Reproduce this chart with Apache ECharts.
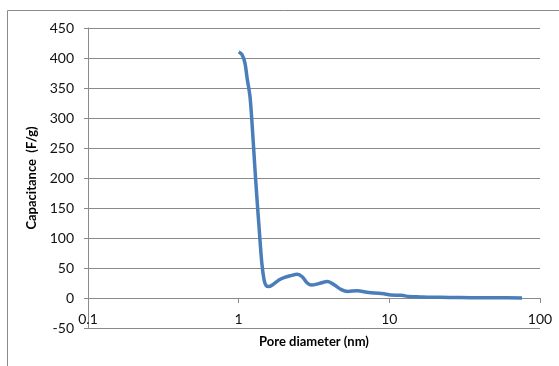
<!DOCTYPE html>
<html>
<head>
<meta charset="utf-8">
<script src="https://cdn.jsdelivr.net/npm/echarts@6/dist/echarts.min.js"></script>
<style>
  html, body { margin: 0; padding: 0; background: #fff; }
  #chart { width: 559px; height: 366px; }
</style>
</head>
<body>
<div id="chart"></div>
<script>
// pore diameter (nm) and capacitance (F/g)
const diameters = [1.00, 1.05, 1.10, 1.14, 1.19, 1.235, 1.275, 1.32, 1.37, 1.425, 1.475, 1.52, 1.58,
  1.7, 1.85, 2.0, 2.2, 2.45, 2.65, 2.85, 3.05, 3.4, 3.9, 4.3, 4.8, 5.3, 6.1, 7.3, 8.5, 9.2,
  10.2, 12.0, 13.5, 16, 19, 25, 35, 50, 76];
const capacitance = [410, 406, 392, 365, 335, 280, 225, 169, 113, 58, 30, 21, 19,
  23, 30, 34, 37, 39.5, 35, 25, 21.5, 24, 27.5, 22, 14, 11, 12, 9, 8, 7,
  5, 4.5, 2.5, 1.8, 1.2, 1, 0.6, 0.4, 0.2];
const xTicks = [0.1, 1, 10, 100];
const yTicks = [-50, 0, 50, 100, 150, 200, 250, 300, 350, 400, 450];

const chart = echarts.init(document.getElementById('chart'), null, { renderer: 'canvas' });

const font = 'Lato, "Open Sans", sans-serif';
const gray = '#8a8a8a';

// plot box in px
const gridTop = 28, gridBottom = 38;
const gridH = 366 - gridTop - gridBottom;
// x axis crosses at y = 0, so lift it from the bottom edge
const yMin = yTicks[0], yMax = yTicks[yTicks.length - 1];
const xAxisLift = -gridH * (0 - yMin) / (yMax - yMin);

let option = {
  animation: false,
  graphic: [
    {
      type: 'rect',
      shape: { x: 7.5, y: 10.5, width: 600, height: 400 },
      style: { fill: 'none', stroke: gray, lineWidth: 1 },
      silent: true
    }
  ],
  grid: { left: 88, right: 19, top: gridTop, bottom: gridBottom, outerBoundsMode: 'none', containLabel: false },
  xAxis: {
    type: 'log',
    logBase: 10,
    min: xTicks[0],
    max: xTicks[xTicks.length - 1],
    offset: xAxisLift,
    name: 'Pore diameter (nm)',
    nameLocation: 'middle',
    nameGap: 37,
    nameTextStyle: { fontFamily: font, fontWeight: 'bold', fontSize: 13, color: '#000' },
    axisLine: { show: true, onZero: false, lineStyle: { color: gray, width: 1 } },
    axisTick: { show: true, inside: false, length: 5, lineStyle: { color: gray } },
    axisLabel: {
      fontFamily: font, fontSize: 14, color: '#111', margin: 14,
      showMinLabel: true, showMaxLabel: true,
      formatter: v => String(v)
    },
    splitLine: { show: false }
  },
  yAxis: {
    type: 'value',
    min: yMin,
    max: yMax,
    interval: 50,
    name: 'Capacitance  (F/g)',
    nameLocation: 'middle',
    nameGap: 45,
    nameTextStyle: { fontFamily: font, fontWeight: 'bold', fontSize: 13, color: '#000' },
    axisLine: { show: true, onZero: false, lineStyle: { color: gray, width: 1 } },
    axisTick: { show: true, inside: false, length: 4, lineStyle: { color: gray } },
    axisLabel: { fontFamily: font, fontSize: 14, color: '#111', margin: 14 },
    splitLine: { show: true, lineStyle: { color: gray, width: 1 } }
  },
  series: [
    {
      type: 'line',
      data: diameters.map((d, i) => [d, capacitance[i]]),
      smooth: 0.3,
      showSymbol: false,
      lineStyle: { color: '#4a7ebb', width: 3.5 },
      itemStyle: { color: '#4a7ebb' }
    }
  ]
};

chart.setOption(option);
</script>
</body>
</html>
